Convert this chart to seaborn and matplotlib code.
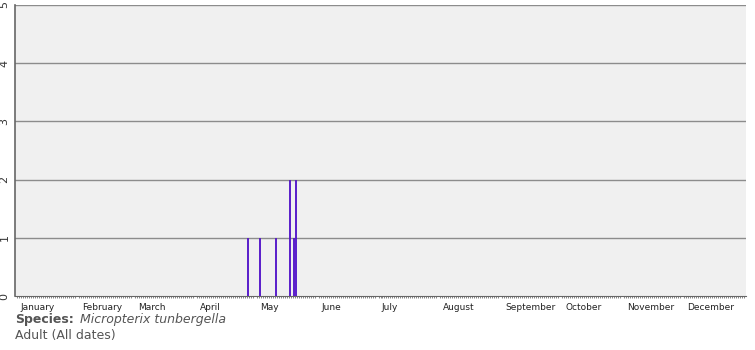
import matplotlib
matplotlib.use("Agg")
import matplotlib.pyplot as plt
import seaborn as sns
import pandas as pd
import numpy as np

# Data
obs_day_of_year = [117, 123, 131, 138, 140, 141]
obs_counts = [1, 1, 1, 2, 1, 2]
month_labels = ["January", "February", "March", "April", "May", "June", "July",
                "August", "September", "October", "November", "December"]
month_start_doy = [1, 32, 60, 91, 121, 152, 182, 213, 244, 274, 305, 335]
y_ticks = [0, 1, 2, 3, 4, 5]

sns.set_theme(style="white")
plt.rcParams['font.family'] = ['DejaVu Sans']

BAR = "#5010c8"
fig = plt.figure(figsize=(7.55, 3.5), dpi=100)
W, H = 755, 350
ax = fig.add_axes([15 / W, (H - 296) / H, (746 - 15) / W, (296 - 5) / H])
ax.set_facecolor("#f0f0f0")

df = pd.DataFrame({"doy": obs_day_of_year, "count": obs_counts})
sns.barplot(data=df, x="doy", y="count", native_scale=True, width=0.6,
            color=BAR, saturation=1, ax=ax, zorder=3)
for p in ax.patches:
    p.set_facecolor(BAR)
    p.set_edgecolor(BAR)
    p.set_linewidth(0.6)
    p.set_zorder(3)

ax.set_xlim(0.5, 366.5)
ax.set_ylim(0, 5)
ax.set_xlabel("")
ax.set_ylabel("")

# gridlines
for yv in y_ticks[1:]:
    ax.axhline(yv, color="#8c8c8c", linewidth=1, zorder=0.5)

for s in ["top", "right"]:
    ax.spines[s].set_visible(False)
ax.spines["left"].set_color("#666666")
ax.spines["left"].set_linewidth(1.2)
ax.spines["bottom"].set_color("#666666")
ax.spines["bottom"].set_linewidth(0.8)

ax.set_yticks(y_ticks)
ax.set_yticklabels([str(v) for v in y_ticks], rotation=90, va="center",
                   fontsize=8, color="#333333")
ax.tick_params(axis="y", length=0, pad=4)

ax.set_xticks([d - 0.5 for d in month_start_doy])
ax.set_xticklabels(month_labels, fontsize=6.5, color="#222222", ha="left")
ax.set_xticks(np.arange(0.5, 366.5, 1), minor=True)
ax.tick_params(axis="x", which="major", length=4, width=0.8, color="#444444", pad=1)
ax.tick_params(axis="x", which="minor", length=1.5, width=0.5, color="#555555", bottom=True)
for lab in ax.get_xticklabels():
    lab.set_transform(lab.get_transform() + matplotlib.transforms.ScaledTranslation(5 / 100, 0, fig.dpi_scale_trans))

fig.text(15 / W, 1 - 320 / H, "Species:", fontsize=9, fontweight="bold",
         color="#555555", va="center", ha="left")
fig.text(80 / W, 1 - 320 / H, "Micropterix tunbergella", fontsize=9,
         style="italic", color="#555555", va="center", ha="left")
fig.text(15 / W, 1 - 336 / H, "Adult (All dates)", fontsize=9,
         color="#555555", va="center", ha="left")

fig.savefig("out.png", dpi=100, facecolor="white")
